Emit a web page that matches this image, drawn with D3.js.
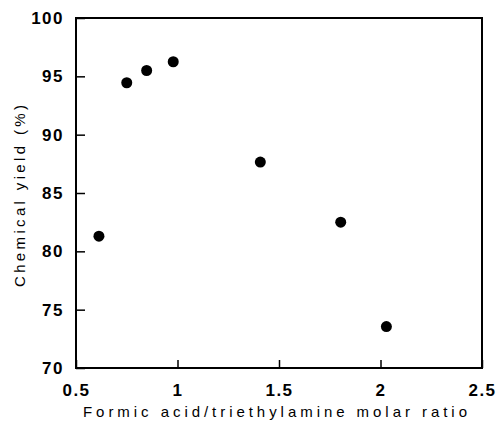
<html>
<head>
    <script src="https://d3js.org/d3.v7.min.js"></script>
    <style>
        body { margin: 0; background: #fff; }
        text {
            font-family: "Liberation Sans", Arial, sans-serif;
            fill: #000;
        }
        .tick text { font-size: 17px; font-weight: bold; letter-spacing: 1.5px; }
        .title { font-size: 15px; }
    </style>
</head>
<body>
<div id="chart"></div>
<script>
    // molar ratio vs. chemical yield
    var ratio = [0.613, 0.75, 0.848, 0.979, 1.408, 1.804, 2.029];
    var yieldPct = [81.3, 94.45, 95.5, 96.25, 87.65, 82.5, 73.55];

    var xTicks = [0.5, 1, 1.5, 2, 2.5];
    var xTickLabels = ["0.5", "1", "1.5", "2", "2.5"];
    var yTicks = [70, 75, 80, 85, 90, 95, 100];

    var width = 500, height = 421;
    var mLeft = 76, mRight = 482, mTop = 18, mBottom = 368;

    var svg = d3.select("#chart")
        .append('svg')
        .attr('width', width)
        .attr('height', height);

    var x = d3.scaleLinear().domain([0.5, 2.5]).range([mLeft, mRight]);
    var y = d3.scaleLinear().domain([70, 100]).range([mBottom, mTop]);

    var xAxis = d3.axisBottom(x)
        .tickValues(xTicks)
        .tickFormat(function(d, i) { return xTickLabels[i]; })
        .tickSizeInner(-8)
        .tickSizeOuter(0)
        .tickPadding(16);

    var yAxis = d3.axisLeft(y)
        .tickValues(yTicks)
        .tickSizeInner(-9)
        .tickSizeOuter(0)
        .tickPadding(12);

    var gx = svg.append('g')
        .attr('transform', 'translate(0,' + mBottom + ')')
        .call(xAxis);
    gx.select('.domain').remove();
    gx.selectAll('.tick line').attr('stroke', '#000').attr('stroke-width', 1.5);

    var gy = svg.append('g')
        .attr('transform', 'translate(' + mLeft + ',0)')
        .call(yAxis);
    gy.select('.domain').remove();
    gy.selectAll('.tick line').attr('stroke', '#000').attr('stroke-width', 1.5);

    svg.selectAll('.tick text').attr('font-family', null).attr('font-size', null);

    svg.append('rect')
        .attr('x', mLeft)
        .attr('y', mTop)
        .attr('width', mRight - mLeft)
        .attr('height', mBottom - mTop)
        .attr('fill', 'none')
        .attr('stroke', '#000')
        .attr('stroke-width', 2);

    svg.selectAll('circle')
        .data(ratio)
        .enter()
        .append('circle')
        .attr('cx', function(d) { return x(d); })
        .attr('cy', function(d, i) { return y(yieldPct[i]); })
        .attr('r', 5.5)
        .attr('fill', '#000');

    svg.append('text')
        .attr('class', 'title')
        .attr('x', 83)
        .attr('y', 417)
        .attr('textLength', 384)
        .attr('lengthAdjust', 'spacing')
        .text('Formic acid/triethylamine molar ratio');

    svg.append('text')
        .attr('class', 'title')
        .attr('transform', 'translate(25,287) rotate(-90)')
        .attr('textLength', 182)
        .attr('lengthAdjust', 'spacing')
        .text('Chemical yield (%)');
</script>
</body>
</html>
